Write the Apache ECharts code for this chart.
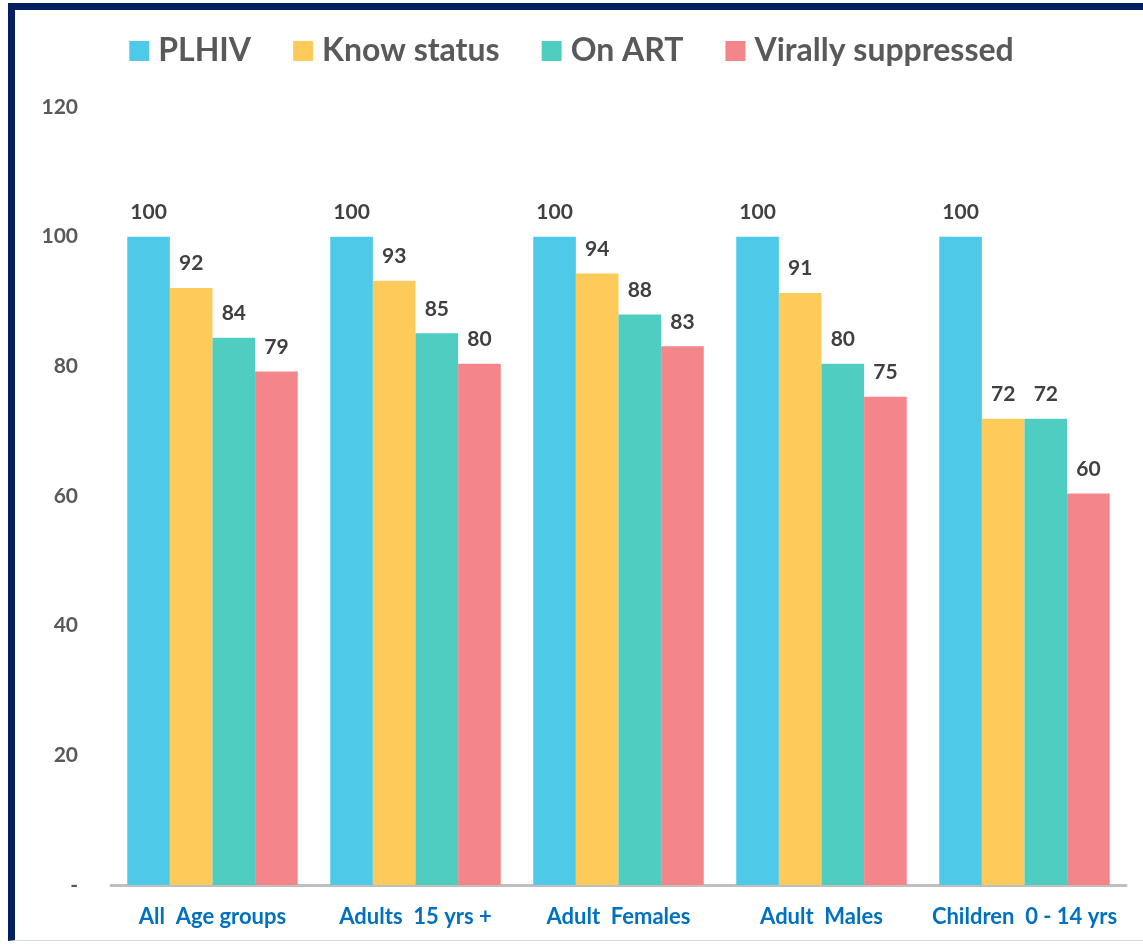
<!DOCTYPE html>
<html>
<head>
<meta charset="utf-8">
<script src="https://cdn.jsdelivr.net/npm/echarts@6/dist/echarts.min.js"></script>
<style>
    html, body { margin: 0; padding: 0; background: #fff; }
    #frame {
        position: absolute; left: 8px; top: 3px; width: 1200px; height: 930px;
        border-top: 7px solid #002060; border-left: 7px solid #002060;
        border-bottom: 1px solid #d9d9d9;
    }
    #main { position: absolute; left: 0; top: 0; width: 1143px; height: 944px; }
</style>
</head>
<body>
<div id="frame"></div>
<div id="main"></div>
<script>
    // 分组
    var categories = ['All  Age groups', 'Adults  15 yrs +', 'Adult  Females', 'Adult  Males', 'Children  0 - 14 yrs'];
    // 各系列数值（柱高从图上估读）
    var plhiv = [100, 100, 100, 100, 100];
    var knowStatus = [92.1, 93.2, 94.3, 91.3, 71.9];
    var onArt = [84.4, 85.1, 88.0, 80.4, 71.9];
    var virallySuppressed = [79.2, 80.4, 83.1, 75.3, 60.4];
    var yTicks = [0, 20, 40, 60, 80, 100, 120];

    var seriesNames = ['PLHIV', 'Know status', 'On ART', 'Virally suppressed'];
    var seriesData = [plhiv, knowStatus, onArt, virallySuppressed];
    var colors = ['#4ECAE8', '#FECB5B', '#4ECDC0', '#F4858A'];
    var fontFamily = 'Lato, "Open Sans", sans-serif';

    var myChart = echarts.init(document.getElementById('main'));

    var series = [];
    seriesNames.forEach(function (name, i) {
        series.push({
            name: name,
            type: 'bar',
            barGap: '0%',
            barCategoryGap: '16%',
            data: seriesData[i],
            itemStyle: { color: colors[i] },
            label: {
                show: true,
                position: 'top',
                distance: 14,
                color: '#404040',
                fontWeight: 'bold',
                fontSize: 21,
                fontFamily: fontFamily,
                formatter: function (p) { return Math.round(p.value); }
            }
        });
    });

    var option = {
        animation: false,
        color: colors,
        legend: {
            top: 30,
            left: 'center',
            itemWidth: 20,
            itemHeight: 20,
            itemGap: 42,
            icon: 'rect',
            textStyle: {
                color: '#595959',
                fontSize: 32,
                fontWeight: 'bold',
                fontFamily: fontFamily,
                padding: [0, 0, 0, 4]
            },
            data: seriesNames
        },
        grid: { left: 111, right: 17, top: 107, bottom: 59 },
        xAxis: {
            type: 'category',
            data: categories,
            axisLine: { lineStyle: { color: '#bfbfbf', width: 3 } },
            axisTick: { show: false },
            axisLabel: {
                interval: 0,
                color: '#0070C0',
                fontWeight: 'bold',
                fontSize: 22,
                fontFamily: fontFamily,
                margin: 21
            }
        },
        yAxis: {
            type: 'value',
            min: yTicks[0],
            max: yTicks[yTicks.length - 1],
            interval: 20,
            splitLine: { show: false },
            axisLine: { show: false },
            axisTick: { show: false },
            axisLabel: {
                color: '#595959',
                fontWeight: 'bold',
                fontSize: 21,
                fontFamily: fontFamily,
                margin: 33,
                formatter: function (v) { return v === 0 ? '-' : v; }
            }
        },
        series: series
    };
    myChart.setOption(option);
</script>
</body>
</html>
